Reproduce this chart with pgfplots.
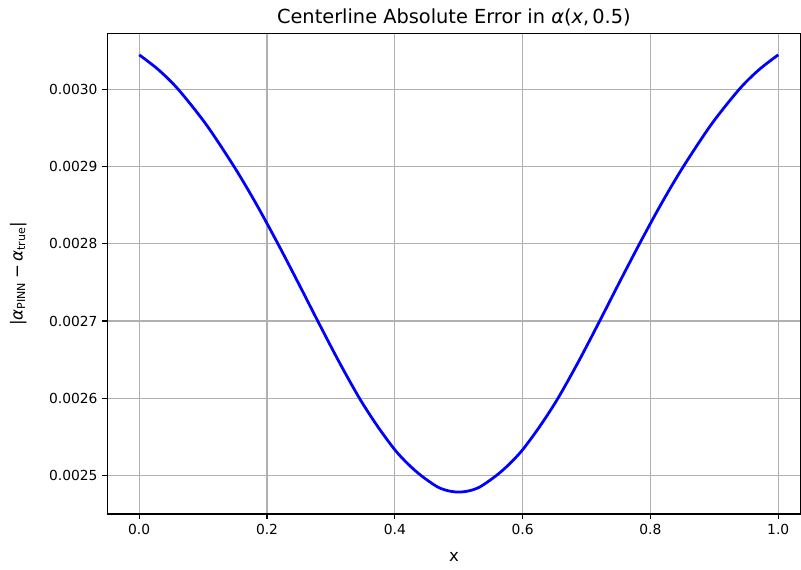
\documentclass[border=0pt]{standalone}
\usepackage{pgfplots}
\pgfplotsset{compat=1.18}
\usepackage{fontspec}
\setmainfont{DejaVu Sans}
\definecolor{gridgray}{HTML}{B0B0B0}
\pgfplotstableread{
x v
0.000 0.0030445
0.030 0.0030253
0.061 0.0029999
0.105 0.0029541
0.150 0.0028978
0.184 0.0028502
0.218 0.0027985
0.249 0.0027492
0.280 0.0026990
0.3125 0.0026475
0.345 0.0025995
0.373 0.0025637
0.400 0.0025333
0.4205 0.0025150
0.441 0.0025000
0.466 0.0024856
0.483 0.0024803
0.500 0.0024785
0.517 0.0024803
0.534 0.0024856
0.559 0.0025000
0.5795 0.0025150
0.600 0.0025333
0.627 0.0025637
0.655 0.0025995
0.6875 0.0026475
0.720 0.0026990
0.751 0.0027492
0.782 0.0027985
0.816 0.0028502
0.850 0.0028978
0.895 0.0029541
0.939 0.0029999
0.970 0.0030253
1.000 0.0030445
}\errdata
\begin{document}
\begin{tikzpicture}
\begin{axis}[
  scale only axis, width=6.937in, height=4.81in,
  xmin=-0.05, xmax=1.035, ymin=0.0024501, ymax=0.0030724,
  xtick={0,0.2,0.4,0.6,0.8,1.0},
  ytick={0.0025,0.0026,0.0027,0.0028,0.0029,0.0030},
  grid=major, grid style={color=gridgray, line width=0.8pt},
  axis line style={black, line width=0.8pt},
  tick align=outside, major tick length=3.5pt,
  tick style={black, line width=0.8pt},
  xtick pos=bottom, ytick pos=left,
  scaled y ticks=false, scaled x ticks=false,
  yticklabel style={/pgf/number format/.cd,fixed,fixed zerofill,precision=4},
  xticklabel style={/pgf/number format/.cd,fixed,fixed zerofill,precision=1},
  /pgf/number format/assume math mode=true,
  ticklabel style={font=\fontsize{10}{12}\selectfont},
  label style={font=\fontsize{12}{14}\selectfont},
  xlabel={x},
  xlabel style={at={(axis description cs:0.5,0)}, anchor=base, yshift=-0.477in, inner sep=0pt},
  ylabel={|\textit{α}\textsubscript{PINN}\hspace{0.2em}−\hspace{0.2em}\textit{α}\textsubscript{true}|},
  ylabel style={at={(axis description cs:-0.1283,0.5)}, anchor=center, inner sep=0pt},
  title={Centerline Absolute Error in \textit{α}(\textit{x},\,0.5)},
  title style={font=\fontsize{14}{16}\selectfont, at={(axis description cs:0.5,1)}, anchor=base, yshift=1.2pt, inner sep=0pt},
]
\addplot[blue, line width=2pt, smooth] table[x=x, y=v] {\errdata};
\end{axis}
\pgfresetboundingbox
\path[use as bounding box] (-1.073in,-0.557in) rectangle (6.941in,5.143in);
\end{tikzpicture}
\end{document}
